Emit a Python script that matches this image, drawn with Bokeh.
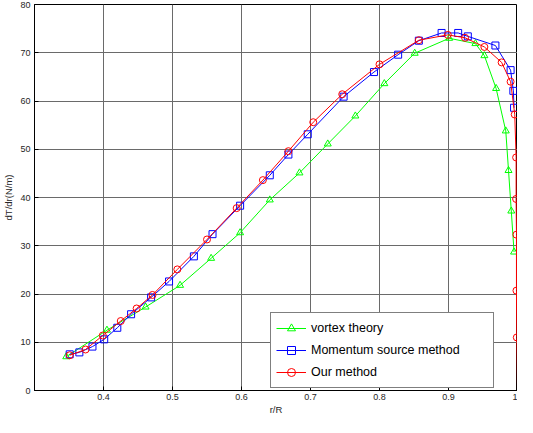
from bokeh.plotting import figure
from bokeh.models import Range1d, FixedTicker, Legend, LegendItem
from bokeh.embed import file_html
from bokeh.resources import INLINE

# ---- data ----
vortex_x = [0.346, 0.405, 0.461, 0.511, 0.556, 0.598, 0.641, 0.684, 0.725, 0.765,
            0.807, 0.851, 0.901, 0.939, 0.952, 0.969, 0.983, 0.987, 0.991, 0.995]
vortex_y = [7.0, 12.5, 17.3, 21.8, 27.4, 32.7, 39.5, 45.1, 51.1, 56.9,
            63.6, 69.9, 73.0, 71.9, 69.4, 62.6, 53.8, 45.6, 37.2, 28.7]

momentum_x = [0.351, 0.365, 0.384, 0.401, 0.420, 0.440, 0.469, 0.495, 0.531, 0.558,
              0.598, 0.641, 0.668, 0.696, 0.748, 0.792, 0.827, 0.857, 0.890, 0.914,
              0.928, 0.968, 0.990, 0.994, 0.995]
momentum_y = [7.5, 7.9, 9.1, 10.6, 13.0, 15.8, 19.3, 22.6, 27.8, 32.4,
              38.3, 44.6, 48.9, 53.1, 60.9, 66.0, 69.6, 72.5, 74.1, 74.1,
              73.4, 71.5, 66.4, 62.1, 58.6]

our_x = [0.351, 0.374, 0.399, 0.425, 0.448, 0.471, 0.507, 0.550, 0.593, 0.631,
         0.668, 0.704, 0.746, 0.800, 0.857, 0.899, 0.924, 0.952, 0.977, 0.990,
         0.996, 0.998, 0.998, 0.9985, 0.9985, 0.999, 1.0]
our_y = [7.3, 8.5, 11.4, 14.4, 17.0, 19.8, 25.1, 31.3, 37.8, 43.6,
         49.6, 55.6, 61.4, 67.6, 72.6, 73.7, 73.1, 71.2, 68.0, 64.0,
         57.2, 48.3, 39.7, 32.3, 20.7, 11.0, 0.0]

x_ticks = [0.4, 0.5, 0.6, 0.7, 0.8, 0.9, 1.0]
x_tick_labels = ["0.4", "0.5", "0.6", "0.7", "0.8", "0.9", "1"]
y_ticks = [0, 10, 20, 30, 40, 50, 60, 70, 80]
y_tick_labels = ["0", "10", "20", "30", "40", "50", "60", "70", "80"]

series_names = ["vortex theory", "Momentum source method", "Our method"]
series_colors = ["#00ff00", "#0000ff", "#ff0000"]

FONT = "Liberation Sans"

p = figure(width=517, height=417, output_backend="svg", toolbar_location=None,
           x_range=Range1d(0.3, 1.0), y_range=Range1d(0, 80),
           min_border_left=32, min_border_right=0, min_border_top=4, min_border_bottom=25)
p.background_fill_color = "white"
p.border_fill_color = "white"
p.outline_line_color = "black"
p.outline_line_width = 1

xt = FixedTicker(ticks=x_ticks)
yt = FixedTicker(ticks=y_ticks)
p.xaxis.ticker = xt
p.yaxis.ticker = yt
p.xgrid.ticker = xt
p.ygrid.ticker = yt
p.xaxis.major_label_overrides = {t: l for t, l in zip(x_ticks, x_tick_labels)}
p.yaxis.major_label_overrides = {t: l for t, l in zip(y_ticks, y_tick_labels)}

for g in (p.xgrid, p.ygrid):
    g.grid_line_color = "#6a6a6a"
    g.grid_line_width = 1

for ax in (p.xaxis, p.yaxis):
    ax.axis_line_color = "black"
    ax.axis_line_width = 1
    ax.major_tick_in = 4
    ax.major_tick_out = 0
    ax.major_tick_line_color = "black"
    ax.minor_tick_line_color = None
    ax.major_label_text_font = FONT
    ax.major_label_text_font_size = "9px"
    ax.major_label_text_color = "#262626"
    ax.axis_label_text_font = FONT
    ax.axis_label_text_font_size = "9.5px"
    ax.axis_label_text_font_style = "normal"
    ax.axis_label_text_color = "#262626"

p.xaxis.axis_label = "r/R"
p.yaxis.axis_label = "dT/dr(N/m)"
p.xaxis.major_label_standoff = 3
p.xaxis.axis_label_standoff = 1
p.yaxis.major_label_standoff = 4
p.yaxis.axis_label_standoff = 3

items = []
markers = ["triangle", "square", "circle"]
data = [(vortex_x, vortex_y), (momentum_x, momentum_y), (our_x, our_y)]
for (xs, ys), name, col, mk in zip(data, series_names, series_colors, markers):
    ln = p.line(xs, ys, line_color=col, line_width=1)
    if mk == "circle":
        mx, my = xs[:-1], ys[:-1]
    else:
        mx, my = xs, ys
    sc = p.scatter(mx, my, marker=mk, size=7, line_color=col, line_width=1, fill_color=None)
    items.append(LegendItem(label=name, renderers=[ln, sc]))

legend = Legend(items=items, location=(236, 2))
legend.border_line_color = "black"
legend.border_line_width = 1
legend.background_fill_color = "white"
legend.background_fill_alpha = 1
legend.label_text_font = FONT
legend.label_text_font_size = "12.5px"
legend.label_text_color = "black"
legend.glyph_width = 30
legend.glyph_height = 20
legend.label_height = 20
legend.label_width = 177
legend.label_standoff = 5
legend.spacing = 2
legend.padding = 5
legend.margin = 0
p.add_layout(legend)

open("out.html", "w").write(file_html(p, INLINE))
